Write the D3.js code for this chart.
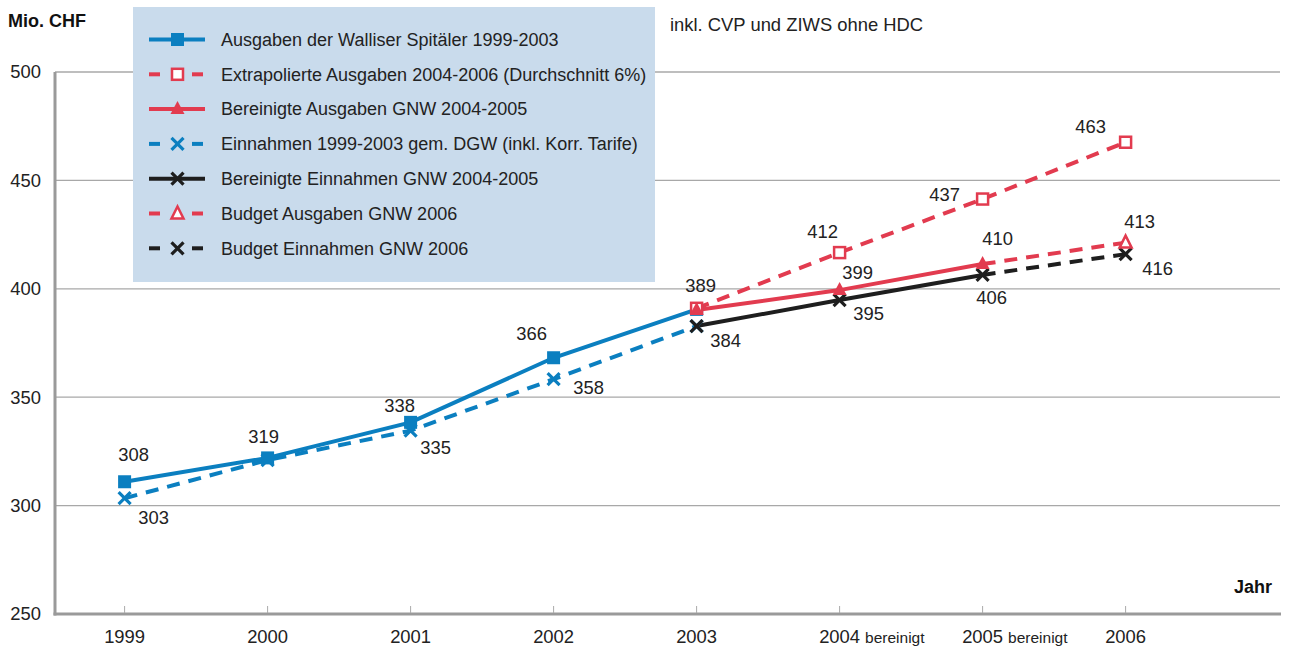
<!DOCTYPE html>
<html><head><meta charset="utf-8">
<script src="https://cdn.jsdelivr.net/npm/d3@7"></script>
<style>
body{margin:0;background:#fff;}
svg{display:block;font-family:"Liberation Sans",Arial,sans-serif;}
</style></head>
<body><svg id="c" width="1292" height="653"></svg>
<script>
// ---- data ----
const years = ["1999","2000","2001","2002","2003","2004","2005","2006"];
const tickMain = ["1999","2000","2001","2002","2003","2004","2005","2006"];
const tickSuffix = ["","","","","","bereinigt","bereinigt",""];
const yTicks = [250,300,350,400,450,500];

const ausgabenYears = ["1999","2000","2001","2002","2003"];
const ausgaben = [311, 322, 338.4, 368.2, 390.5];
const ausgabenLabels = ["308","319","338","366",""];

const einnahmenYears = ["1999","2000","2001","2002","2003"];
const einnahmen = [303.4, 321, 334.6, 358.3, 382.8];
const einnahmenLabels = ["303","","335","358",""];

const extraYears = ["2003","2004","2005","2006"];
const extrapoliert = [391, 416.7, 441.4, 467.6];
const extraLabels = ["389","412","437","463"];

const berAusgYears = ["2003","2004","2005"];
const berAusgaben = [390.2, 399.4, 411.4];
const berAusgLabels = ["","399","410"];

const berEinnYears = ["2003","2004","2005"];
const berEinnahmen = [382.8, 394.8, 406.4];
const berEinnLabels = ["384","395","406"];

const budAusgYears = ["2005","2006"];
const budgetAusgaben = [411.4, 421.3];
const budAusgLabels = ["","413"];

const budEinnYears = ["2005","2006"];
const budgetEinnahmen = [406.4, 416];
const budEinnLabels = ["","416"];

const legendNames = [
  "Ausgaben der Walliser Spitäler 1999-2003",
  "Extrapolierte Ausgaben 2004-2006 (Durchschnitt 6%)",
  "Bereinigte Ausgaben GNW 2004-2005",
  "Einnahmen 1999-2003 gem. DGW (inkl. Korr. Tarife)",
  "Bereinigte Einnahmen GNW 2004-2005",
  "Budget Ausgaben GNW 2006",
  "Budget Einnahmen GNW 2006"
];

// ---- label offsets (layout) ----
const offAusgaben = [[9,-27],[-4,-21],[-11,-17],[-22,-24],[0,0]];
const offEinnahmen = [[29,19],[0,0],[25,17],[35,8],[0,0]];
const offExtra = [[4,-23],[-17,-21],[-38,-4],[-35,-16]];
const offBerAusg = [[0,0],[18,-18],[15,-26]];
const offBerEinn = [[29,14],[29,13],[9,23]];
const offBudAusg = [[0,0],[14,-21]];
const offBudEinn = [[0,0],[32,14]];

const BLUE="#0b7fc0", RED="#e23b4f", BLACK="#1e1e1e", TXT="#222";
const FS = 18.4;

const svg = d3.select("#c");
const x = d3.scalePoint().domain(years).range([124.6, 1125.6]);
const y = d3.scaleLinear().domain([250,500]).range([614, 72]);

// gridlines
svg.append("g").selectAll("line").data(yTicks.filter(d=>d>250)).join("line")
  .attr("x1",55).attr("x2",1280).attr("y1",d=>y(d)).attr("y2",d=>y(d))
  .attr("stroke","#a8a8a8").attr("stroke-width",1.3);

// y tick labels
svg.append("g").selectAll("text").data(yTicks).join("text")
  .attr("x",41).attr("y",d=>y(d)).attr("dy","0.35em").attr("text-anchor","end")
  .attr("font-size",FS).attr("fill",TXT).text(d=>d);

// axes lines
svg.append("line").attr("x1",55).attr("x2",55).attr("y1",72).attr("y2",615.5)
  .attr("stroke","#9a9a9a").attr("stroke-width",3);
svg.append("line").attr("x1",53.5).attr("x2",1281).attr("y1",614).attr("y2",614)
  .attr("stroke","#9a9a9a").attr("stroke-width",3);
// x ticks
svg.append("g").selectAll("line").data(years).join("line")
  .attr("x1",d=>x(d)).attr("x2",d=>x(d)).attr("y1",606).attr("y2",613)
  .attr("stroke","#aaa").attr("stroke-width",1);
// x labels
const xg = svg.append("g");
years.forEach((d,i)=>{
  const t = xg.append("text").attr("x",x(d)).attr("y",643).attr("text-anchor","middle")
    .attr("font-size",FS).attr("fill",TXT).text(tickMain[i]);
  if(tickSuffix[i]){
    const w = t.node().getComputedTextLength();
    xg.append("text").attr("x",x(d)+w/2+5).attr("y",643).attr("font-size",15.5)
      .attr("fill",TXT).text(tickSuffix[i]);
  }
});

svg.append("text").attr("x",8).attr("y",27).attr("font-size",18).attr("font-weight","bold")
  .attr("fill","#111").text("Mio. CHF");
svg.append("text").attr("x",1272).attr("y",593).attr("text-anchor","end").attr("font-size",18)
  .attr("font-weight","bold").attr("fill","#111").text("Jahr");
svg.append("text").attr("x",670).attr("y",31).attr("font-size",FS).attr("fill",TXT)
  .text("inkl. CVP und ZIWS ohne HDC");

// legend box
svg.append("rect").attr("x",133).attr("y",7).attr("width",522).attr("height",275).attr("fill","#c9dbec");

const line = d3.line().x(d=>x(d[0])).y(d=>y(d[1]));

function series(yrs, vals, color, dashed){
  svg.append("path").datum(yrs.map((d,i)=>[d,vals[i]]))
    .attr("d",line).attr("fill","none").attr("stroke",color).attr("stroke-width",4)
    .attr("stroke-dasharray",dashed?"13,9":null);
}
function marker(g, type, color, cx, cy){
  if(type==="sq") g.append("rect").attr("x",cx-6.5).attr("y",cy-6.5).attr("width",13).attr("height",13).attr("fill",color);
  if(type==="osq") g.append("rect").attr("x",cx-5.5).attr("y",cy-5.5).attr("width",11).attr("height",11).attr("fill","#fff").attr("stroke",color).attr("stroke-width",2.5);
  if(type==="tri") g.append("path").attr("d",`M${cx},${cy-8}L${cx+7},${cy+5}L${cx-7},${cy+5}Z`).attr("fill",color);
  if(type==="otri") g.append("path").attr("d",`M${cx},${cy-7}L${cx+6},${cy+5}L${cx-6},${cy+5}Z`).attr("fill","#fff").attr("stroke",color).attr("stroke-width",2.5);
  if(type==="x") g.append("path").attr("d",`M${cx-6},${cy-6}L${cx+6},${cy+6}M${cx+6},${cy-6}L${cx-6},${cy+6}`).attr("stroke",color).attr("stroke-width",3.2).attr("fill","none");
}
function marks(yrs, vals, type, color, labels, offs){
  const g = svg.append("g");
  yrs.forEach((d,i)=>marker(g,type,color,x(d),y(vals[i])));
  yrs.forEach((d,i)=>{ if(labels[i]) svg.append("text").attr("x",x(d)+offs[i][0]).attr("y",y(vals[i])+offs[i][1])
    .attr("dy","0.35em").attr("text-anchor","middle").attr("font-size",FS).attr("fill",TXT).text(labels[i]); });
}

// lines
series(einnahmenYears, einnahmen, BLUE, true);
series(ausgabenYears, ausgaben, BLUE, false);
series(extraYears, extrapoliert, RED, true);
series(budEinnYears, budgetEinnahmen, BLACK, true);
series(budAusgYears, budgetAusgaben, RED, true);
series(berEinnYears, berEinnahmen, BLACK, false);
series(berAusgYears, berAusgaben, RED, false);

marks(einnahmenYears, einnahmen, "x", BLUE, einnahmenLabels, offEinnahmen);
marks(ausgabenYears, ausgaben, "sq", BLUE, ausgabenLabels, offAusgaben);
marks(berEinnYears, berEinnahmen, "x", BLACK, berEinnLabels, offBerEinn);
marks(budEinnYears.slice(1), budgetEinnahmen.slice(1), "x", BLACK, budEinnLabels.slice(1), offBudEinn.slice(1));
marks(extraYears, extrapoliert, "osq", RED, extraLabels, offExtra);
marks(berAusgYears, berAusgaben, "tri", RED, berAusgLabels, offBerAusg);
marks(budAusgYears.slice(1), budgetAusgaben.slice(1), "otri", RED, budAusgLabels.slice(1), offBudAusg.slice(1));

// legend entries
const legStyle = [
  {c:BLUE,d:false,m:"sq"},{c:RED,d:true,m:"osq"},{c:RED,d:false,m:"tri"},
  {c:BLUE,d:true,m:"x"},{c:BLACK,d:false,m:"x"},{c:RED,d:true,m:"otri"},{c:BLACK,d:true,m:"x"}
];
const lg = svg.append("g");
legendNames.forEach((n,i)=>{
  const cy = 39.5 + i*34.8, s = legStyle[i];
  if(s.d){
    lg.append("line").attr("x1",149).attr("x2",160).attr("y1",cy).attr("y2",cy).attr("stroke",s.c).attr("stroke-width",4);
    lg.append("line").attr("x1",192).attr("x2",203).attr("y1",cy).attr("y2",cy).attr("stroke",s.c).attr("stroke-width",4);
  } else {
    lg.append("line").attr("x1",149).attr("x2",205).attr("y1",cy).attr("y2",cy).attr("stroke",s.c).attr("stroke-width",4);
  }
  marker(lg, s.m, s.c, 177.5, cy);
  lg.append("text").attr("x",221).attr("y",cy).attr("dy","0.35em").attr("font-size",18).attr("fill",TXT).text(n);
});
</script></body></html>
